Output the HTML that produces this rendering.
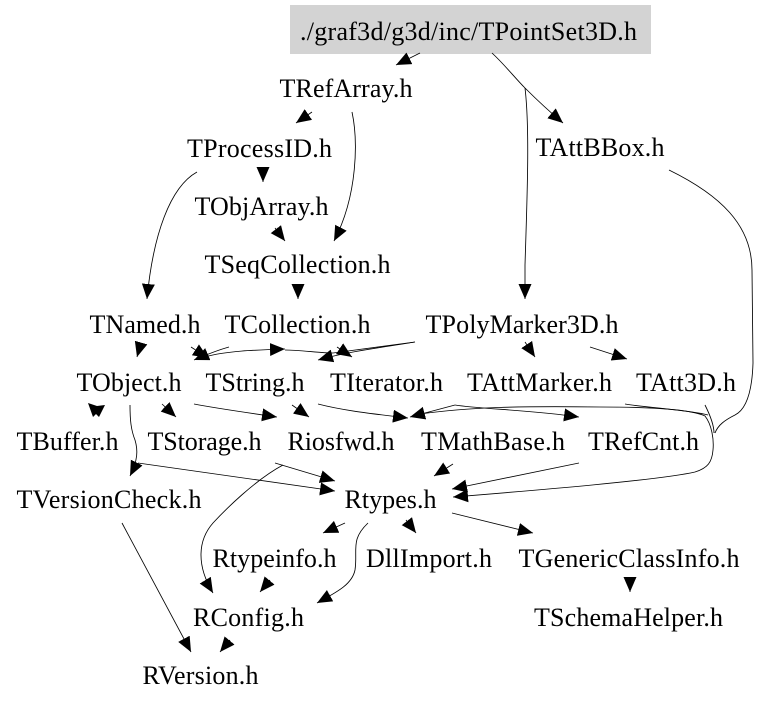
<!DOCTYPE html>
<html><head><meta charset="utf-8"><style>
html,body{margin:0;padding:0;background:#fff}
svg{display:block}
text{font-family:"Liberation Serif",serif;font-size:26px;fill:#000}
path{fill:none;stroke:#000;stroke-width:.85;marker-end:url(#a)}
</style></head><body>
<svg width="763" height="704" viewBox="0 0 763 704" xmlns="http://www.w3.org/2000/svg">
<defs><marker id="a" markerUnits="userSpaceOnUse" markerWidth="16" markerHeight="14" refX="15" refY="6.5" orient="auto"><polygon points="0,0 15,6.5 0,13" fill="#000"/></marker></defs>
<rect x="290" y="5" width="361" height="49" fill="#d3d3d3"/>
<path d="M420 53L396 65"/>
<path d="M492 53C505 65 515 78 525 88C535 98 550 112 563 123"/>
<path d="M525 88C530 130 527 200 525 265L525 299"/>
<path d="M312 112L296 123"/>
<path d="M352 112C358 140 358 195 334 241"/>
<path d="M197 172C170 187 153 235 147 299"/>
<path d="M263 168L263 182"/>
<path d="M275 228L285 241"/>
<path d="M298 285L298 299"/>
<path d="M141 343L137 357"/>
<path d="M191 347L208 358"/>
<path d="M229 347C218 350 208 354 194 360"/>
<path d="M205 357C225 351 255 350 285 349"/>
<path d="M285 350C300 350 320 353 333 353L415 342" style="marker-end:none"/>
<path d="M337 347L352 357"/>
<path d="M415 342C385 347 350 351 318 360"/>
<path d="M525 342L535 357"/>
<path d="M590 347L627 359"/>
<polygon points="88,403 97,406 105,405 99,417 96,414 93,417" fill="#000"/>
<path d="M130 405C130 420 131 430 135 440C138 450 138 460 130 476"/>
<path d="M162 404L176 417"/>
<path d="M194 404C220 409 250 413 277 417"/>
<path d="M292 405L309 417"/>
<path d="M138 463L335 491"/>
<path d="M275 463L335 481"/>
<path d="M283 465C255 480 225 510 213 523C198 540 196 565 213 593"/>
<path d="M318 404C345 411 375 414 408 418"/>
<path d="M455 405L410 417"/>
<path d="M420 414C470 407 520 406 600 407C650 407 690 409 705 416C712 425 714 440 713 450C712 462 708 468 695 472C660 480 540 490 453 497"/>
<path d="M455 405C480 409 530 410 579 417"/>
<path d="M625 404C650 408 690 410 708 415" style="marker-end:none"/>
<path d="M705 405C710 415 714 425 714 433" style="marker-end:none"/>
<path d="M669 170C720 195 752 225 752 270L753 363C752 395 745 410 735 415C725 420 718 425 715 433" style="marker-end:none"/>
<path d="M579 463L452 489"/>
<path d="M453 464L434 476"/>
<path d="M452 513L533 533"/>
<path d="M345 523L323 533"/>
<path d="M368 523C350 540 358 550 355 570C352 585 335 593 317 603"/>
<path d="M406 520L416 533"/>
<path d="M630 579L630 592"/>
<path d="M270 580L260 592"/>
<path d="M122 523L191 652"/>
<path d="M230 640L220 652"/>
<text x="300" y="40" textLength="337">./graf3d/g3d/inc/TPointSet3D.h</text>
<text x="279.5" y="97" textLength="133">TRefArray.h</text>
<text x="535.5" y="156" textLength="129">TAttBBox.h</text>
<text x="187" y="157" textLength="145">TProcessID.h</text>
<text x="194.5" y="215" textLength="134">TObjArray.h</text>
<text x="204.5" y="273" textLength="186">TSeqCollection.h</text>
<text x="89.5" y="333" textLength="111">TNamed.h</text>
<text x="224.5" y="333" textLength="146">TCollection.h</text>
<text x="425.5" y="333" textLength="193">TPolyMarker3D.h</text>
<text x="76.5" y="391" textLength="105">TObject.h</text>
<text x="205.5" y="391" textLength="99">TString.h</text>
<text x="330" y="391" textLength="113">TIterator.h</text>
<text x="467" y="391" textLength="145">TAttMarker.h</text>
<text x="636" y="391" textLength="100">TAtt3D.h</text>
<text x="16.5" y="450" textLength="102">TBuffer.h</text>
<text x="147.5" y="450" textLength="114">TStorage.h</text>
<text x="287.5" y="450" textLength="107">Riosfwd.h</text>
<text x="421" y="450" textLength="144">TMathBase.h</text>
<text x="588" y="450" textLength="111">TRefCnt.h</text>
<text x="16.5" y="508" textLength="185">TVersionCheck.h</text>
<text x="344.5" y="508" textLength="92">Rtypes.h</text>
<text x="212.5" y="567" textLength="124">Rtypeinfo.h</text>
<text x="366" y="567" textLength="126">DllImport.h</text>
<text x="518.5" y="567" textLength="221">TGenericClassInfo.h</text>
<text x="193" y="626" textLength="111">RConfig.h</text>
<text x="534" y="626" textLength="189">TSchemaHelper.h</text>
<text x="142.5" y="684" textLength="116">RVersion.h</text>
</svg>
</body></html>
